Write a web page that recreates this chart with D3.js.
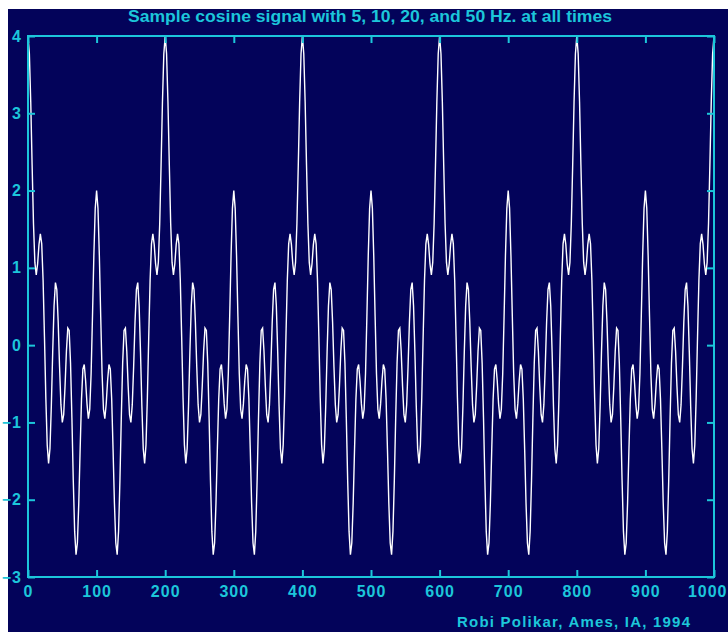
<!DOCTYPE html>
<html>
<head>
<meta charset="utf-8">
<script src="https://cdn.jsdelivr.net/npm/d3@7"></script>
<style>
  html, body { margin: 0; padding: 0; background: #ffffff; }
  svg { display: block; }
</style>
</head>
<body>
<svg id="chart" width="728" height="632"></svg>
<script>
// ---- data ----
const titleText = "Sample cosine signal with 5, 10, 20, and 50 Hz. at all times";
const creditText = "Robi Polikar, Ames, IA, 1994";
const xTicks = [0, 100, 200, 300, 400, 500, 600, 700, 800, 900, 1000];
const yTicks = [-3, -2, -1, 0, 1, 2, 3, 4];
const sampleStep = 2; // one value every 2 samples
const signal = [
4,3.77,3.15,2.33,1.57,1.07,0.91,1.05,1.30,1.44,1.31,0.84,0.11,-0.68,-1.29,-1.53,-1.34,-0.79,-0.09,0.51,0.81,0.72,0.30,-0.28,-0.77,-1.00,-0.90,-0.53,-0.08,0.22,0.19,-0.23,-0.94,-1.75,-2.41,-2.71,-2.56,-2.05,-1.35,-0.70,-0.31,-0.25,-0.46,-0.76,-0.95,-0.83,-0.37,0.37,1.16,1.77,2,1.77,1.16,0.37,-0.37,-0.83,-0.95,-0.76,-0.46,-0.25,-0.31,-0.70,-1.35,-2.05,-2.56,-2.71,-2.41,-1.75,-0.94,-0.23,0.19,0.22,-0.08,-0.53,-0.90,-1.00,-0.77,-0.28,0.30,0.72,0.81,0.51,-0.09,-0.79,-1.34,-1.53,-1.29,-0.68,0.11,0.84,1.31,1.44,1.30,1.05,0.91,1.07,1.57,2.33,3.15,3.77,
4,3.77,3.15,2.33,1.57,1.07,0.91,1.05,1.30,1.44,1.31,0.84,0.11,-0.68,-1.29,-1.53,-1.34,-0.79,-0.09,0.51,0.81,0.72,0.30,-0.28,-0.77,-1.00,-0.90,-0.53,-0.08,0.22,0.19,-0.23,-0.94,-1.75,-2.41,-2.71,-2.56,-2.05,-1.35,-0.70,-0.31,-0.25,-0.46,-0.76,-0.95,-0.83,-0.37,0.37,1.16,1.77,2,1.77,1.16,0.37,-0.37,-0.83,-0.95,-0.76,-0.46,-0.25,-0.31,-0.70,-1.35,-2.05,-2.56,-2.71,-2.41,-1.75,-0.94,-0.23,0.19,0.22,-0.08,-0.53,-0.90,-1.00,-0.77,-0.28,0.30,0.72,0.81,0.51,-0.09,-0.79,-1.34,-1.53,-1.29,-0.68,0.11,0.84,1.31,1.44,1.30,1.05,0.91,1.07,1.57,2.33,3.15,3.77,
4,3.77,3.15,2.33,1.57,1.07,0.91,1.05,1.30,1.44,1.31,0.84,0.11,-0.68,-1.29,-1.53,-1.34,-0.79,-0.09,0.51,0.81,0.72,0.30,-0.28,-0.77,-1.00,-0.90,-0.53,-0.08,0.22,0.19,-0.23,-0.94,-1.75,-2.41,-2.71,-2.56,-2.05,-1.35,-0.70,-0.31,-0.25,-0.46,-0.76,-0.95,-0.83,-0.37,0.37,1.16,1.77,2,1.77,1.16,0.37,-0.37,-0.83,-0.95,-0.76,-0.46,-0.25,-0.31,-0.70,-1.35,-2.05,-2.56,-2.71,-2.41,-1.75,-0.94,-0.23,0.19,0.22,-0.08,-0.53,-0.90,-1.00,-0.77,-0.28,0.30,0.72,0.81,0.51,-0.09,-0.79,-1.34,-1.53,-1.29,-0.68,0.11,0.84,1.31,1.44,1.30,1.05,0.91,1.07,1.57,2.33,3.15,3.77,
4,3.77,3.15,2.33,1.57,1.07,0.91,1.05,1.30,1.44,1.31,0.84,0.11,-0.68,-1.29,-1.53,-1.34,-0.79,-0.09,0.51,0.81,0.72,0.30,-0.28,-0.77,-1.00,-0.90,-0.53,-0.08,0.22,0.19,-0.23,-0.94,-1.75,-2.41,-2.71,-2.56,-2.05,-1.35,-0.70,-0.31,-0.25,-0.46,-0.76,-0.95,-0.83,-0.37,0.37,1.16,1.77,2,1.77,1.16,0.37,-0.37,-0.83,-0.95,-0.76,-0.46,-0.25,-0.31,-0.70,-1.35,-2.05,-2.56,-2.71,-2.41,-1.75,-0.94,-0.23,0.19,0.22,-0.08,-0.53,-0.90,-1.00,-0.77,-0.28,0.30,0.72,0.81,0.51,-0.09,-0.79,-1.34,-1.53,-1.29,-0.68,0.11,0.84,1.31,1.44,1.30,1.05,0.91,1.07,1.57,2.33,3.15,3.77,
4,3.77,3.15,2.33,1.57,1.07,0.91,1.05,1.30,1.44,1.31,0.84,0.11,-0.68,-1.29,-1.53,-1.34,-0.79,-0.09,0.51,0.81,0.72,0.30,-0.28,-0.77,-1.00,-0.90,-0.53,-0.08,0.22,0.19,-0.23,-0.94,-1.75,-2.41,-2.71,-2.56,-2.05,-1.35,-0.70,-0.31,-0.25,-0.46,-0.76,-0.95,-0.83,-0.37,0.37,1.16,1.77,2,1.77,1.16,0.37,-0.37,-0.83,-0.95,-0.76,-0.46,-0.25,-0.31,-0.70,-1.35,-2.05,-2.56,-2.71,-2.41,-1.75,-0.94,-0.23,0.19,0.22,-0.08,-0.53,-0.90,-1.00,-0.77,-0.28,0.30,0.72,0.81,0.51,-0.09,-0.79,-1.34,-1.53,-1.29,-0.68,0.11,0.84,1.31,1.44,1.30,1.05,0.91,1.07,1.57,2.33,3.15,3.77,
4
];

// ---- layout / style ----
const W = 728, H = 632;
const bg = "#03035a", cyan = "#1cc6da", lineColor = "#ffffff";
const plot = { left: 28, right: 714, top: 36, bottom: 577 };
const font = "'Liberation Sans', Arial, sans-serif";

const svg = d3.select("#chart");

svg.append("rect").attr("x", 8).attr("y", 9)
  .attr("width", W - 8).attr("height", H - 9).attr("fill", bg);

const x = d3.scaleLinear().domain([0, 1000]).range([plot.left, plot.right]);
const y = d3.scaleLinear().domain([-3, 4]).range([plot.bottom, plot.top]);

// title
svg.append("text")
  .attr("x", 370).attr("y", 22)
  .attr("text-anchor", "middle")
  .attr("font-family", font).attr("font-weight", "bold").attr("font-size", 16)
  .attr("fill", cyan)
  .attr("textLength", 484).attr("lengthAdjust", "spacingAndGlyphs")
  .text(titleText);

// signal line
const line = d3.line()
  .x((d, i) => x(i * sampleStep))
  .y(d => y(d));

svg.append("path")
  .datum(signal)
  .attr("d", line)
  .attr("fill", "none")
  .attr("stroke", lineColor)
  .attr("stroke-width", 1.4)
  .attr("stroke-linejoin", "miter");

// axes
function styleAxis(g) {
  g.select(".domain").remove();
  g.selectAll(".tick line").attr("stroke", cyan).attr("stroke-width", 2);
  g.selectAll(".tick text").attr("fill", cyan)
    .attr("font-family", font).attr("font-weight", "bold").attr("font-size", 16)
    .attr("letter-spacing", 1);
}

const xAxisG = svg.append("g")
  .attr("transform", `translate(0,${plot.bottom})`)
  .call(d3.axisBottom(x).tickValues(xTicks).tickSizeInner(-7).tickSizeOuter(0)
    .tickPadding(9).tickFormat(d3.format("d")))
  .call(styleAxis);

// keep the last x label inside the window
xAxisG.selectAll(".tick text")
  .filter(d => d === xTicks[xTicks.length - 1])
  .attr("text-anchor", "end")
  .attr("x", (W - 1) - plot.right);

svg.append("g")
  .attr("transform", `translate(0,${plot.top})`)
  .call(d3.axisTop(x).tickValues(xTicks).tickSizeInner(-7).tickSizeOuter(0)
    .tickFormat(""))
  .call(styleAxis);

svg.append("g")
  .attr("transform", `translate(${plot.left},0)`)
  .call(d3.axisLeft(y).tickValues(yTicks).tickSizeInner(-7).tickSizeOuter(0)
    .tickPadding(6).tickFormat(d3.format("d")))
  .call(styleAxis);

svg.append("g")
  .attr("transform", `translate(${plot.right},0)`)
  .call(d3.axisRight(y).tickValues(yTicks).tickSizeInner(-7).tickSizeOuter(0)
    .tickFormat(""))
  .call(styleAxis);

// frame
svg.append("rect")
  .attr("x", plot.left).attr("y", plot.top)
  .attr("width", plot.right - plot.left).attr("height", plot.bottom - plot.top)
  .attr("fill", "none").attr("stroke", cyan).attr("stroke-width", 2);

// credit
svg.append("text")
  .attr("x", 457).attr("y", 627)
  .attr("font-family", font).attr("font-weight", "bold").attr("font-size", 15)
  .attr("fill", cyan)
  .attr("textLength", 233).attr("lengthAdjust", "spacing")
  .text(creditText);
</script>
</body>
</html>
